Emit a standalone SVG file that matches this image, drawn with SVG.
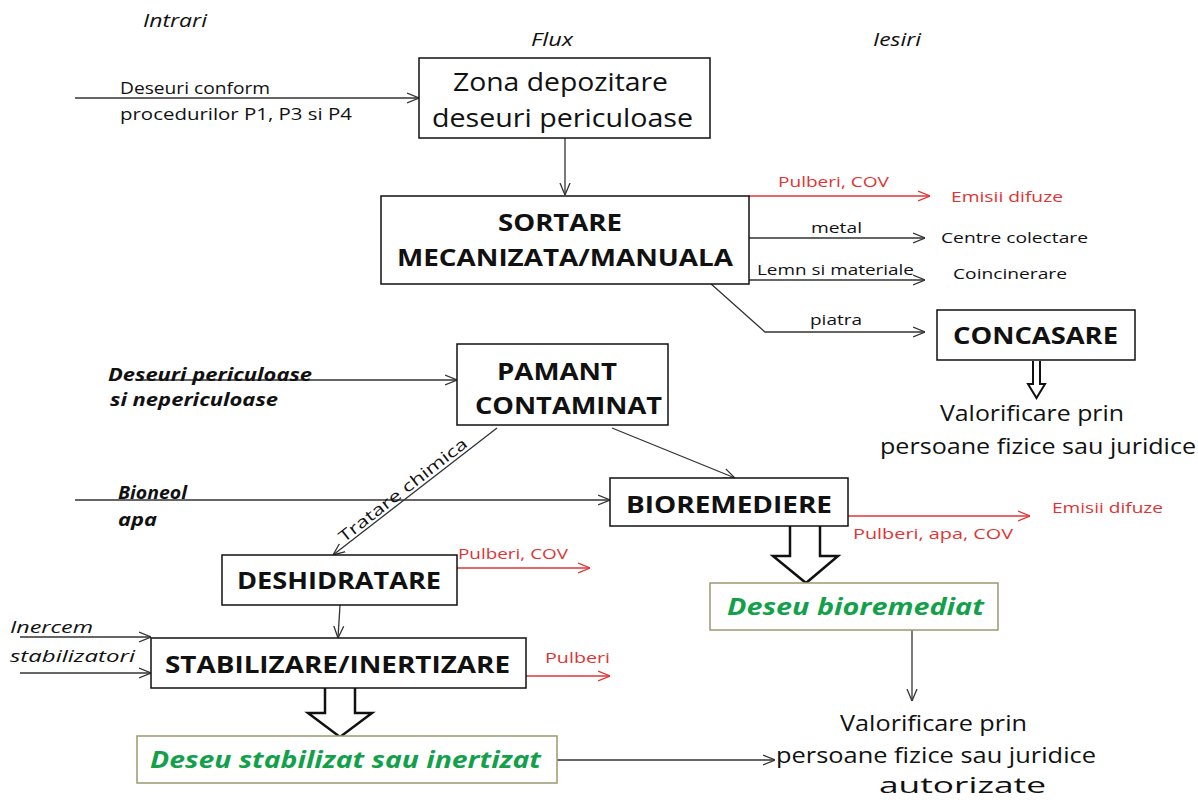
<svg xmlns="http://www.w3.org/2000/svg" width="1198" height="800" viewBox="0 0 1198 800">
<defs>
<style>
text{font-family:"Open Sans","Liberation Sans",sans-serif;fill:#111}
.box{fill:#fff;stroke:#111;stroke-width:1.5}
.gbox{fill:#fff;stroke:#9a9a70;stroke-width:1.5}
.b{font-weight:bold}
.i{font-style:italic}
.red{fill:#e03434}
.grn{fill:#12a14a;font-weight:bold;font-style:italic}
.ln{fill:none;stroke:#333;stroke-width:1.3}
.rln{fill:none;stroke:#e03434;stroke-width:1.3}
.hol{fill:#fff;stroke:#111;stroke-width:2.5;stroke-linejoin:miter}
</style>
<marker id="a" viewBox="0 0 12 12" refX="12" refY="6" markerWidth="12" markerHeight="12" markerUnits="userSpaceOnUse" orient="auto"><path d="M0,1 L12,6 L0,11" fill="none" stroke="#333" stroke-width="1.3"/></marker>
<marker id="ar" viewBox="0 0 12 12" refX="12" refY="6" markerWidth="12" markerHeight="12" markerUnits="userSpaceOnUse" orient="auto"><path d="M0,1 L12,6 L0,11" fill="none" stroke="#e03434" stroke-width="1.3"/></marker>
</defs>
<rect width="1198" height="800" fill="#fff"/>

<g id="headers">
<text x="143" y="27" font-size="18" class="i" textLength="64" lengthAdjust="spacingAndGlyphs">Intrari</text>
<text x="531" y="46" font-size="18" class="i" textLength="42" lengthAdjust="spacingAndGlyphs">Flux</text>
<text x="873" y="46" font-size="18" class="i" textLength="48" lengthAdjust="spacingAndGlyphs">Iesiri</text>
</g>

<g id="connectors">
<path class="ln" d="M75,98 H419" marker-end="url(#a)"/>
<path class="ln" d="M565,138 V195" marker-end="url(#a)"/>
<path class="rln" d="M749,196 H930" marker-end="url(#ar)"/>
<path class="ln" d="M749,238 H925" marker-end="url(#a)"/>
<path class="ln" d="M749,280 H925" marker-end="url(#a)"/>
<path class="ln" d="M710,283 L765,332 H925" marker-end="url(#a)"/>
<path class="ln" d="M140,380 H457" marker-end="url(#a)"/>
<path class="ln" d="M497,428 L333,555" marker-end="url(#a)"/>
<path class="ln" d="M612,428 L735,478" marker-end="url(#a)"/>
<path class="ln" d="M75,500 H610" marker-end="url(#a)"/>
<path class="rln" d="M848,516 H1030" marker-end="url(#ar)"/>
<path class="rln" d="M457,568 H590" marker-end="url(#ar)"/>
<path class="ln" d="M340,605 L338,638" marker-end="url(#a)"/>
<path class="ln" d="M20,637 H151" marker-end="url(#a)"/>
<path class="ln" d="M20,673 H151" marker-end="url(#a)"/>
<path class="rln" d="M526,676 H610" marker-end="url(#ar)"/>
<path class="ln" d="M912,630 V701" marker-end="url(#a)"/>
<path class="ln" d="M557,760 H775" marker-end="url(#a)"/>
<path class="hol" d="M790,526 V556 H773 L806,583 L838,556 H820 V526"/>
<path class="hol" d="M325,688 V713 H308 L340,737 L372,713 H355 V688"/>
<path class="hol" style="stroke-width:2" d="M1033,361 V384 H1028 L1036.5,398 L1045,384 H1040 V361"/>
</g>

<g id="labels">
<text x="120" y="94" font-size="16" textLength="150" lengthAdjust="spacingAndGlyphs">Deseuri conform</text>
<text x="120" y="120" font-size="16" textLength="232" lengthAdjust="spacingAndGlyphs">procedurilor P1, P3 si P4</text>
<text x="778" y="187" font-size="15" class="red" textLength="111" lengthAdjust="spacingAndGlyphs">Pulberi, COV</text>
<text x="951" y="202" font-size="15" class="red" textLength="112" lengthAdjust="spacingAndGlyphs">Emisii difuze</text>
<text x="811" y="233" font-size="15" textLength="51" lengthAdjust="spacingAndGlyphs">metal</text>
<text x="941" y="243" font-size="15" textLength="147" lengthAdjust="spacingAndGlyphs">Centre colectare</text>
<text x="757" y="275" font-size="15" textLength="157" lengthAdjust="spacingAndGlyphs">Lemn si materiale</text>
<text x="953" y="279" font-size="15" textLength="114" lengthAdjust="spacingAndGlyphs">Coincinerare</text>
<text x="810" y="325" font-size="15" textLength="52" lengthAdjust="spacingAndGlyphs">piatra</text>
<text x="108" y="381" font-size="17" class="b i" textLength="204" lengthAdjust="spacingAndGlyphs">Deseuri periculoase</text>
<text x="110" y="406" font-size="17" class="b i" textLength="168" lengthAdjust="spacingAndGlyphs">si nepericuloase</text>
<text transform="translate(344,543) rotate(-38)" font-size="16" textLength="158" lengthAdjust="spacingAndGlyphs">Tratare chimica</text>
<text x="118" y="499" font-size="17" class="b i" textLength="69" lengthAdjust="spacingAndGlyphs">Bioneol</text>
<text x="118" y="526" font-size="17" class="b i" textLength="39" lengthAdjust="spacingAndGlyphs">apa</text>
<text x="1052" y="513" font-size="15" class="red" textLength="111" lengthAdjust="spacingAndGlyphs">Emisii difuze</text>
<text x="853" y="539" font-size="15" class="red" textLength="160" lengthAdjust="spacingAndGlyphs">Pulberi,  apa, COV</text>
<text x="458" y="559" font-size="15" class="red" textLength="110" lengthAdjust="spacingAndGlyphs">Pulberi, COV</text>
<text x="10" y="633" font-size="17" class="i" textLength="83" lengthAdjust="spacingAndGlyphs">Inercem</text>
<text x="10" y="662" font-size="17" class="i" textLength="125" lengthAdjust="spacingAndGlyphs">stabilizatori</text>
<text x="545" y="663" font-size="15" class="red" textLength="65" lengthAdjust="spacingAndGlyphs">Pulberi</text>
</g>

<g id="zona">
<rect class="box" x="419" y="58" width="291" height="80"/>
<text x="453" y="91" font-size="25" textLength="215" lengthAdjust="spacingAndGlyphs">Zona depozitare</text>
<text x="432" y="127" font-size="25" textLength="261" lengthAdjust="spacingAndGlyphs">deseuri periculoase</text>
</g>

<g id="sortare">
<rect class="box" x="381" y="196" width="368" height="88"/>
<text x="498" y="231" font-size="23" class="b" textLength="124" lengthAdjust="spacingAndGlyphs">SORTARE</text>
<text x="397" y="266" font-size="23" class="b" textLength="336" lengthAdjust="spacingAndGlyphs">MECANIZATA/MANUALA</text>
</g>

<g id="concasare">
<rect class="box" x="937" y="310" width="198" height="50"/>
<text x="953" y="344" font-size="23" class="b" textLength="165" lengthAdjust="spacingAndGlyphs">CONCASARE</text>
</g>

<g id="valorificare1">
<text x="940" y="421" font-size="22" textLength="184" lengthAdjust="spacingAndGlyphs">Valorificare prin</text>
<text x="880" y="454" font-size="22" textLength="316" lengthAdjust="spacingAndGlyphs">persoane fizice sau juridice</text>
</g>

<g id="pamant">
<rect class="box" x="457" y="344" width="211" height="81"/>
<text x="497" y="380" font-size="23" class="b" textLength="120" lengthAdjust="spacingAndGlyphs">PAMANT</text>
<text x="475" y="414" font-size="23" class="b" textLength="187" lengthAdjust="spacingAndGlyphs">CONTAMINAT</text>
</g>

<g id="bioremediere">
<rect class="box" x="610" y="478" width="238" height="48"/>
<text x="626" y="513" font-size="23" class="b" textLength="206" lengthAdjust="spacingAndGlyphs">BIOREMEDIERE</text>
</g>

<g id="deseu-bioremediat">
<rect class="gbox" x="710" y="583" width="288" height="47"/>
<text x="727" y="615" font-size="23" class="grn" textLength="257" lengthAdjust="spacingAndGlyphs">Deseu bioremediat</text>
</g>

<g id="deshidratare">
<rect class="box" x="222" y="555" width="235" height="50"/>
<text x="237" y="589" font-size="23" class="b" textLength="204" lengthAdjust="spacingAndGlyphs">DESHIDRATARE</text>
</g>

<g id="stabilizare">
<rect class="box" x="151" y="638" width="375" height="50"/>
<text x="165" y="673" font-size="23" class="b" textLength="345" lengthAdjust="spacingAndGlyphs">STABILIZARE/INERTIZARE</text>
</g>

<g id="deseu-stabilizat">
<rect class="gbox" x="137" y="736" width="420" height="47"/>
<text x="150" y="768" font-size="23" class="grn" textLength="391" lengthAdjust="spacingAndGlyphs">Deseu stabilizat sau inertizat</text>
</g>

<g id="valorificare2">
<text x="840" y="731" font-size="22" textLength="187" lengthAdjust="spacingAndGlyphs">Valorificare prin</text>
<text x="776" y="763" font-size="22" textLength="320" lengthAdjust="spacingAndGlyphs">persoane fizice sau juridice</text>
<text x="879" y="793" font-size="22" textLength="167" lengthAdjust="spacingAndGlyphs">autorizate</text>
</g>
</svg>
